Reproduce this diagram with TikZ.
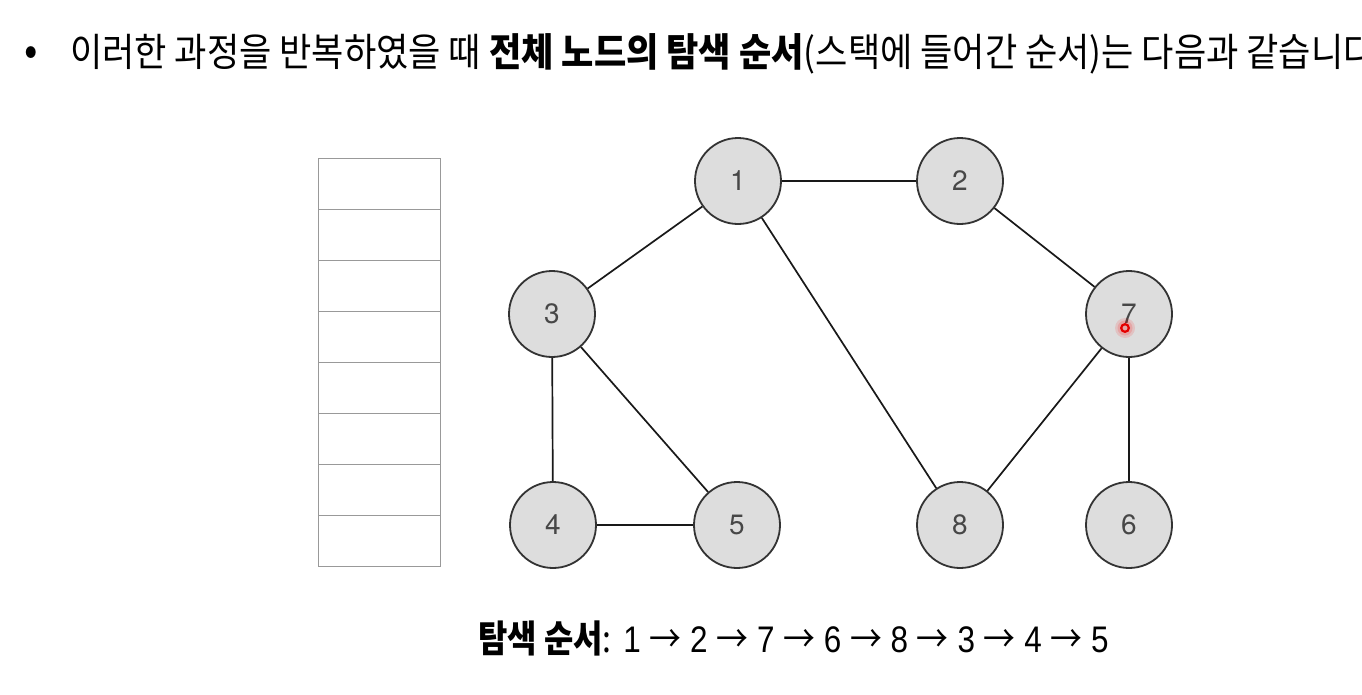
\documentclass[tikz,border=0pt]{standalone}
\usepackage{fontspec}
\setmainfont{Noto Sans CJK KR}[FakeStretch=0.9]
\newfontfamily\korbot{Noto Sans CJK KR}[FakeStretch=0.85]
\newfontfamily\numfont{TeX Gyre Heros}
\newfontfamily\digfont{Liberation Sans}[FakeStretch=0.85]
\newcommand\rarr{{\korbot\fontsize{37.5}{37.5}\selectfont →}}
\begin{document}
\begin{tikzpicture}[x=1pt,y=-1pt,
  gnode/.style={circle,draw=black!80,line width=1.8pt,fill=gray!27!white,minimum size=86pt,inner sep=0pt,
    font=\numfont\fontsize{28}{28}\selectfont,text=black!72},
  edge/.style={line width=1.7pt,black!90},
  cell/.style={draw=gray!80,line width=1pt,minimum width=122pt,minimum height=51.1pt,inner sep=0pt}]
\useasboundingbox (0,0) rectangle (1362,694);
\fill[white] (0,0) rectangle (1362,694);
% title
\node[anchor=base,inner sep=0pt,font=\fontsize{44}{44}\selectfont] (bul) at (31,65) {•};
\node[anchor=base west,inner sep=0pt,font=\fontsize{39}{39}\selectfont] (title) at (70,66)
  {이러한 과정을 반복하였을 때 \textbf{전체 노드의 탐색 순서}(스택에 들어간 순서)는 다음과 같습니다.};
% stack
\foreach \i in {0,...,7}{
  \node[cell] (s\i) at (379,{158+25.55+51.1*\i}) {};
}
% nodes
\node[gnode] (n1) at (738,181) {1};
\node[gnode] (n2) at (960,181) {2};
\node[gnode] (n3) at (552,314) {3};
\node[gnode] (n7) at (1129,314) {7};
\node[gnode] (n4) at (553,525) {4};
\node[gnode] (n5) at (737,525) {5};
\node[gnode] (n8) at (960,525) {8};
\node[gnode] (n6) at (1129,525) {6};
\draw[edge] (n1) -- (n2);
\draw[edge] (n1) -- (n3);
\draw[edge] (n1) -- (n8);
\draw[edge] (n2) -- (n7);
\draw[edge] (n3) -- (n4);
\draw[edge] (n3) -- (n5);
\draw[edge] (n4) -- (n5);
\draw[edge] (n7) -- (n8);
\draw[edge] (n7) -- (n6);
% cursor marker
\fill[red,opacity=0.12] (1125,328) circle (10);
\fill[red,opacity=0.15] (1125,328) circle (7.5);
\draw[red!90!black,line width=2.2pt] (1125,328) coordinate (cur) circle (3.8);
% bottom
\node[anchor=base west,inner sep=0pt,font=\fontsize{37.5}{37.5}\selectfont] (order) at (478,652)
  {\korbot\textbf{탐색 순서}:\digfont\fontsize{37}{37}\selectfont{} 1 \rarr{} 2 \rarr{} 7 \rarr{} 6 \rarr{} 8 \rarr{} 3 \rarr{} 4 \rarr{} 5};
\end{tikzpicture}
\end{document}
